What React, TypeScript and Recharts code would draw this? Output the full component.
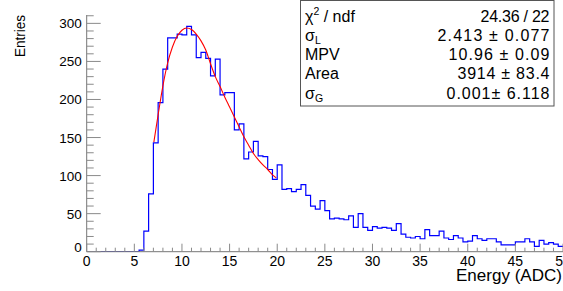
import React from 'react'
import { LineChart, Line, XAxis, YAxis } from 'recharts'

// histogram: 100 bins of 0.5 ADC from 0 to 50
const binLow = 0
const binWidth = 0.5
const counts = [
  0, 0, 0, 0, 0, 0, 0, 0, 0, 0, 0, 2, 27, 76, 143, 196, 240, 281, 281, 286,
  285, 296, 285, 255, 262, 254, 231, 253, 206, 209, 209, 160, 168, 122, 131, 145, 126, 125, 108, 95,
  114, 82, 83, 79, 82, 88, 74, 60, 56, 67, 54, 43, 44, 43, 42, 47, 32, 50, 32, 28,
  33, 31, 32, 31, 28, 37, 23, 19, 18, 20, 17, 29, 21, 21, 27, 18, 16, 21, 18, 13,
  14, 21, 17, 15, 17, 17, 13, 9, 9, 9, 13, 13, 17, 13, 7, 15, 10, 12, 10, 7,
]

// Landau fit curve
const fitX = [7.05, 7.5, 8, 8.5, 9, 9.5, 10, 10.5, 11, 11.5, 12, 12.5, 13, 13.5, 14, 14.5, 15, 15.5, 16, 16.5, 17, 17.5, 18, 18.5, 19, 19.5, 19.9]
const fitY = [144, 180, 218, 248, 269, 283, 291, 294, 292, 286, 277, 265, 247, 230, 217, 203, 190, 177, 164, 151, 140, 129, 121, 114, 108, 101, 97]

const xTicks = Array.from({ length: 51 }, (_, i) => i)
const yTicks = Array.from({ length: 32 }, (_, i) => i * 10)

const statLabels = [
  { base: 'χ', sup: '2', rest: ' / ndf' },
  { base: 'σ', sub: 'L' },
  { base: 'MPV' },
  { base: 'Area' },
  { base: 'σ', sub: 'G' },
]
const statValues = ['24.36 / 22', '2.413 ± 0.077', '10.96 ± 0.09', '3914 ± 83.4', '0.001± 6.118']
const statValueWidths = [69, 112, 101, 92, 103]

const histData = [
  ...counts.map((c, i) => ({ x: binLow + i * binWidth, y: c })),
  { x: binLow + counts.length * binWidth, y: counts[counts.length - 1] },
]
const fitData = fitX.map((x, i) => ({ x, y: fitY[i] }))

const FONT = '"Liberation Sans", Arial, Helvetica, sans-serif'
const TICK = '#8a8a8a'

const BottomTick = ({ x, y, payload }: any) => {
  const major = payload.value % 5 === 0
  return (
    <g>
      <line x1={x} y1={y} x2={x} y2={y - (major ? 8 : 4)} stroke={TICK} />
      {major && (
        <text x={x} y={y + 14} textAnchor="middle" fontSize={14} fontFamily={FONT} fill="#000">
          {payload.value}
        </text>
      )}
    </g>
  )
}

const TopTick = ({ x, y, payload }: any) => {
  const major = payload.value % 5 === 0
  return <line x1={x} y1={y} x2={x} y2={y + (major ? 8 : 4)} stroke={TICK} />
}

const LeftTick = ({ x, y, payload }: any) => {
  const major = payload.value % 50 === 0
  const dy = payload.value === 0 ? -5 : 0
  return (
    <g>
      <line x1={x} y1={y} x2={x + (major ? 14 : 7)} y2={y} stroke={TICK} />
      {major && (
        <text x={x - 5} y={y + 5 + dy} textAnchor="end" fontSize={13.5} fontFamily={FONT} fill="#000">
          {payload.value}
        </text>
      )}
    </g>
  )
}

const RightTick = ({ x, y, payload }: any) => {
  const major = payload.value % 50 === 0
  return <line x1={x} y1={y} x2={x - (major ? 14 : 7)} y2={y} stroke={TICK} />
}

export default function App() {
  return (
    <div style={{ position: 'absolute', left: 0, top: 0, width: 563, height: 291, overflow: 'hidden', background: '#fff' }}>
      <LineChart width={563} height={291} margin={{ top: 15, right: 0, bottom: 0, left: 0 }}>
        <XAxis
          dataKey="x" type="number" domain={[0, 50]} ticks={xTicks} interval={0}
          height={39.3} tickSize={0} tickMargin={0} tickLine={false}
          axisLine={{ stroke: '#777' }} tick={<BottomTick />} allowDataOverflow
        />
        <XAxis
          xAxisId="top" orientation="top" dataKey="x" type="number" domain={[0, 50]} ticks={xTicks} interval={0}
          height={0} tickSize={0} tickMargin={0} tickLine={false}
          axisLine={{ stroke: '#777' }} tick={<TopTick />} allowDataOverflow
        />
        <YAxis
          type="number" domain={[0, 311]} ticks={yTicks} interval={0}
          width={86.7} tickSize={0} tickMargin={0} tickLine={false}
          axisLine={{ stroke: '#777' }} tick={<LeftTick />} allowDataOverflow
        />
        <YAxis
          yAxisId="right" orientation="right" type="number" domain={[0, 311]} ticks={yTicks} interval={0}
          width={0} tickSize={0} tickMargin={0} tickLine={false}
          axisLine={{ stroke: '#777' }} tick={<RightTick />} allowDataOverflow
        />
        <Line
          data={histData} dataKey="y" type="stepAfter" stroke="#0000ff" strokeWidth={1.2}
          dot={false} activeDot={false} isAnimationActive={false}
        />
        <Line
          data={fitData} dataKey="y" type="monotone" stroke="#ff0000" strokeWidth={1.1}
          dot={false} activeDot={false} isAnimationActive={false}
        />
      </LineChart>
      <svg width={563} height={291} style={{ position: 'absolute', left: 0, top: 0, pointerEvents: 'none' }}>
        <text
          transform="translate(25,15) rotate(-90)" textAnchor="end" fontSize={15} fontFamily={FONT} fill="#000"
          textLength={42} lengthAdjust="spacingAndGlyphs"
        >
          Entries
        </text>
        <text
          x={562} y={281} textAnchor="end" fontSize={17} fontFamily={FONT} fill="#000"
          textLength={106} lengthAdjust="spacingAndGlyphs"
        >
          Energy (ADC)
        </text>
        <rect x={300.5} y={0.5} width={253.5} height={105.5} fill="#fff" stroke="#555" />
        {statLabels.map((s, i) => (
          <text key={s.base + i} x={305} y={21.7 + i * 19.2} fontSize={16} fontFamily={FONT} fill="#000">
            {s.base}
            {s.sup && <tspan fontSize={10.5} dy={-7}>{s.sup}</tspan>}
            {s.sup && <tspan dy={7}>{s.rest}</tspan>}
            {s.sub && <tspan fontSize={10.5} dy={3}>{s.sub}</tspan>}
          </text>
        ))}
        {statValues.map((v, i) => (
          <text
            key={v} x={549.5} y={21.7 + i * 19.2} textAnchor="end" fontSize={16} fontFamily={FONT} fill="#000"
            textLength={statValueWidths[i]} lengthAdjust="spacing"
          >
            {v}
          </text>
        ))}
      </svg>
    </div>
  )
}
